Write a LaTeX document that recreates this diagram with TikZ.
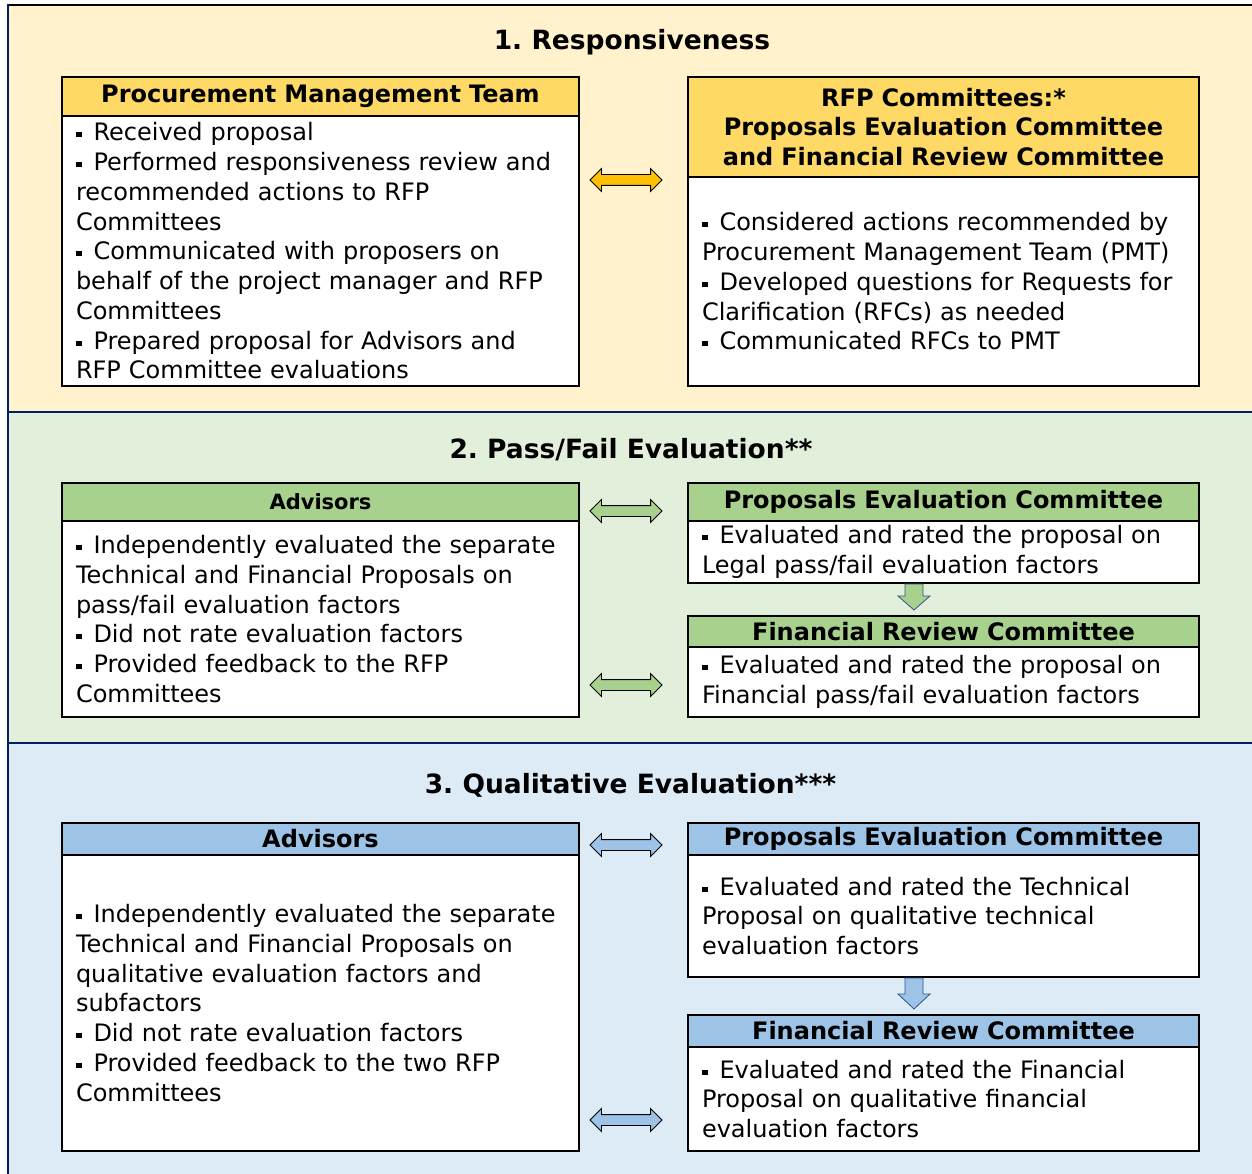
\documentclass[tikz,border=0pt]{standalone}
\usepackage{fontspec}
\setmainfont{DejaVu Sans}
\usetikzlibrary{shapes.arrows}
\frenchspacing
\definecolor{paneA}{HTML}{FFF2CC}
\definecolor{paneB}{HTML}{E2EFDA}
\definecolor{paneC}{HTML}{DDEBF7}
\definecolor{headA}{HTML}{FFD966}
\definecolor{headB}{HTML}{A9D18E}
\definecolor{headC}{HTML}{9DC3E6}
\definecolor{arrA}{HTML}{FFC000}
\definecolor{navy}{HTML}{002060}
\definecolor{arrline}{HTML}{2F528F}
% small square bullet
\newcommand{\sqb}{\rule[3.5pt]{5.5pt}{5pt}\hspace{12pt}}
\tikzset{
    headbox/.style={draw=black, line width=2pt, inner sep=2pt, outer sep=0pt,
        align=center, font=\fontsize{24}{29.5}\selectfont\bfseries},
    bodybox/.style={draw=black, line width=2pt, fill=white, inner xsep=14pt, inner ysep=2pt,
        outer sep=0pt, align=left, font=\fontsize{24}{29.75}\selectfont},
    leftcol/.style={minimum width=517pt, text width=489pt},
    rightcol/.style={minimum width=511pt, text width=483pt},
    paneltitle/.style={font=\fontsize{26.5}{30}\selectfont\bfseries, inner sep=0pt},
    dblarrow/.style={double arrow, draw=black, line width=0.8pt, inner xsep=0pt, inner ysep=5pt,
        double arrow head extend=6pt, minimum height=72pt},
    downarrow/.style={draw=arrline, line width=0.8pt, line join=miter}
}
\begin{document}
\begin{tikzpicture}[x=1pt, y=-1pt]
    \useasboundingbox (0,0) rectangle (1252,1174);
    % panels
    \fill[paneA] (8,5) rectangle (1252,412);
    \fill[paneB] (8,412) rectangle (1252,743);
    \fill[paneC] (8,743) rectangle (1252,1174);
    \draw[black, line width=2.5pt] (8,5) -- (1252,5);
    \draw[navy, line width=2.5pt] (8,412) -- (1252,412);
    \draw[navy, line width=2.5pt] (8,743) -- (1252,743);
    \draw[navy, line width=2.5pt] (8,4) -- (8,1174);

    % 1. Responsiveness
    \node[paneltitle] (t1) at (632,42) {1. Responsiveness};
    \node[headbox, leftcol, fill=headA, minimum height=39pt] (h1) at (320.5,96.5) {Procurement Management Team};
    \node[bodybox, leftcol, minimum height=270pt] (b1) at (320.5,251) {%
        \sqb Received proposal\\
        \sqb Performed responsiveness review and\\
        recommended actions to RFP\\
        Committees\\
        \sqb Communicated with proposers on\\
        behalf of the project manager and RFP\\
        Committees\\
        \sqb Prepared proposal for Advisors and\\
        RFP Committee evaluations};
    \node[headbox, rightcol, fill=headA, minimum height=100pt] (h2) at (943.5,127) {RFP Committees:*\\
        Proposals Evaluation Committee\\
        and Financial Review Committee};
    \node[bodybox, rightcol, minimum height=209pt] (b2) at (943.5,281.5) {%
        \sqb Considered actions recommended by\\
        Procurement Management Team (PMT)\\
        \sqb Developed questions for Requests for\\
        Clarification (RFCs) as needed\\
        \sqb Communicated RFCs to PMT};
    \node[dblarrow, fill=arrA] (a1) at (626,180) {};

    % 2. Pass/Fail Evaluation
    \node[paneltitle] (t2) at (631,450) {2. Pass/Fail Evaluation**};
    \node[headbox, leftcol, fill=headB, minimum height=38pt, font=\fontsize{21}{24}\selectfont\bfseries] (h3) at (320.5,502) {Advisors};
    \node[bodybox, leftcol, minimum height=196pt] (b3) at (320.5,619) {%
        \sqb Independently evaluated the separate\\
        Technical and Financial Proposals on\\
        pass/fail evaluation factors\\
        \sqb Did not rate evaluation factors\\
        \sqb Provided feedback to the RFP\\
        Committees};
    \node[headbox, rightcol, fill=headB, minimum height=38pt] (h4) at (943.5,502) {Proposals Evaluation Committee};
    \node[bodybox, rightcol, minimum height=62pt] (b4) at (943.5,552) {%
        \sqb Evaluated and rated the proposal on\\
        Legal pass/fail evaluation factors};
    \node[headbox, rightcol, fill=headB, minimum height=31pt] (h5) at (943.5,631.5) {Financial Review Committee};
    \node[bodybox, rightcol, minimum height=70pt] (b5) at (943.5,682) {%
        \sqb Evaluated and rated the proposal on\\
        Financial pass/fail evaluation factors};
    \node[dblarrow, fill=headB] (a2) at (626,511) {};
    \node[dblarrow, fill=headB] (a3) at (626,685) {};
    \coordinate (d1) at (914,584);
    \draw[downarrow, fill=headB] (d1) ++(-9,0) -- ++(18,0) -- ++(0,12) -- ++(7,0)
        -- ++(-16,14) -- ++(-16,-14) -- ++(7,0) -- cycle;

    % 3. Qualitative Evaluation
    \node[paneltitle] (t3) at (630.5,785) {3. Qualitative Evaluation***};
    \node[headbox, leftcol, fill=headC, minimum height=32pt] (h6) at (320.5,839) {Advisors};
    \node[bodybox, leftcol, minimum height=296pt] (b6) at (320.5,1003) {%
        \sqb Independently evaluated the separate\\
        Technical and Financial Proposals on\\
        qualitative evaluation factors and\\
        subfactors\\
        \sqb Did not rate evaluation factors\\
        \sqb Provided feedback to the two RFP\\
        Committees};
    \node[headbox, rightcol, fill=headC, minimum height=32pt] (h7) at (943.5,839) {Proposals Evaluation Committee};
    \node[bodybox, rightcol, minimum height=122pt] (b7) at (943.5,916) {%
        \sqb Evaluated and rated the Technical\\
        Proposal on qualitative technical\\
        evaluation factors};
    \node[headbox, rightcol, fill=headC, minimum height=32pt] (h8) at (943.5,1031) {Financial Review Committee};
    \node[bodybox, rightcol, minimum height=104pt] (b8) at (943.5,1099) {%
        \sqb Evaluated and rated the Financial\\
        Proposal on qualitative financial\\
        evaluation factors};
    \node[dblarrow, fill=headC] (a4) at (626,845) {};
    \node[dblarrow, fill=headC] (a5) at (626,1120) {};
    \coordinate (d2) at (914,978);
    \draw[downarrow, fill=headC] (d2) ++(-9,0) -- ++(18,0) -- ++(0,16) -- ++(7,0)
        -- ++(-16,15) -- ++(-16,-15) -- ++(7,0) -- cycle;
\end{tikzpicture}
\end{document}
